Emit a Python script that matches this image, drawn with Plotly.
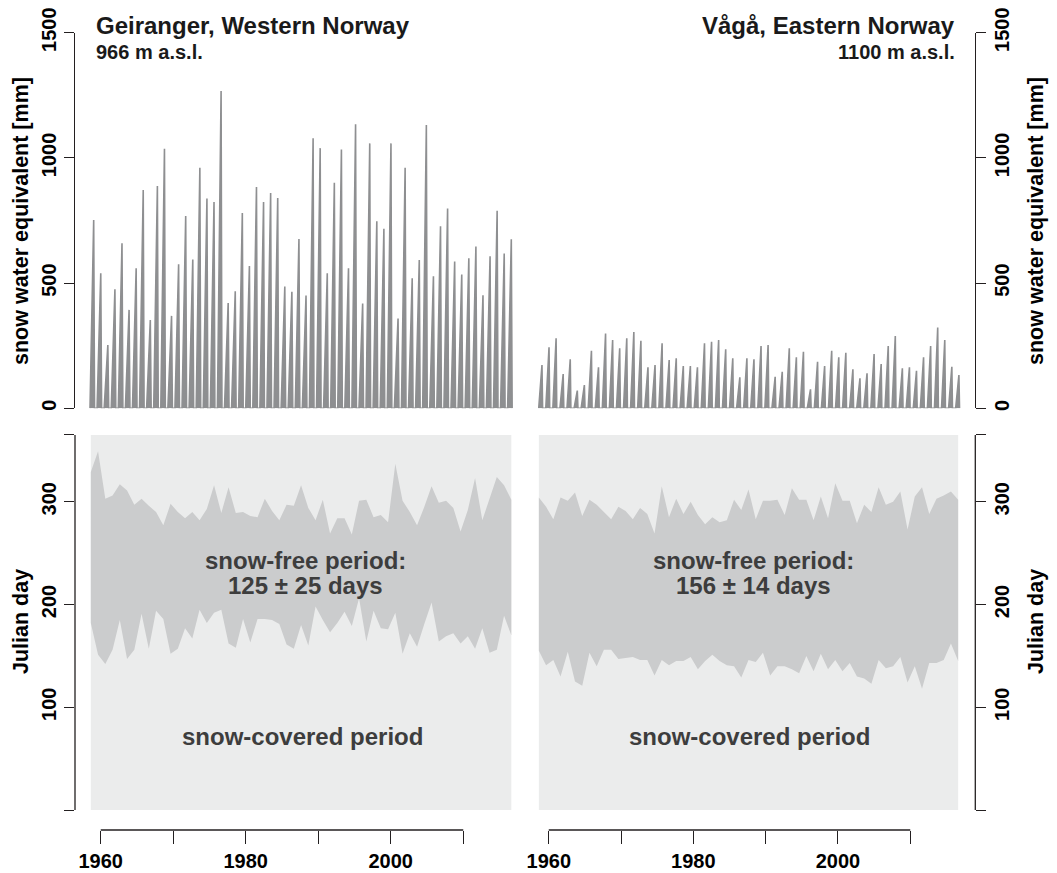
import plotly.graph_objects as go

W, H = 1057, 873

# ---------------- data ----------------
# annual maximum snow water equivalent [mm], one value per winter (60 winters)
swe_winters = list(range(1957, 2017))
geiranger_peak_swe = [752, 539, 253, 475, 659, 393, 559, 872, 353, 888,
                      1037, 369, 575, 768, 594, 961, 838, 824, 1267, 420,
                      467, 780, 568, 884, 824, 860, 840, 486, 465, 676,
                      450, 1078, 1039, 539, 901, 1034, 559, 1134, 418, 1058,
                      747, 717, 1058, 359, 961, 519, 592, 1131, 527, 727,
                      798, 586, 534, 599, 646, 451, 607, 789, 618, 675]
vaga_peak_swe = [173, 244, 280, 137, 196, 71, 93, 230, 164, 299,
                 273, 240, 280, 305, 270, 164, 173, 260, 193, 200,
                 169, 169, 164, 260, 266, 273, 236, 200, 124, 200,
                 196, 249, 253, 126, 146, 240, 204, 226, 76, 186,
                 169, 230, 204, 222, 156, 120, 140, 217, 177, 249,
                 289, 160, 164, 150, 204, 249, 323, 273, 166, 133]

# snow-free season (Julian day): melt-out (start) and snow onset (end)
season_years = list(range(1958, 2017))
geiranger_melt_out = [182, 151, 142, 156, 185, 147, 156, 191, 157, 194,
                      186, 152, 157, 177, 167, 195, 182, 192, 195, 162,
                      158, 186, 163, 186, 186, 185, 181, 161, 157, 180,
                      160, 198, 185, 173, 182, 193, 179, 206, 164, 194,
                      177, 176, 192, 152, 172, 159, 181, 202, 164, 169,
                      172, 162, 169, 157, 177, 153, 156, 189, 170]
geiranger_snow_onset = [329, 349, 303, 306, 317, 311, 297, 303, 296, 290,
                        277, 298, 290, 284, 290, 282, 293, 316, 289, 314,
                        289, 290, 286, 285, 303, 291, 282, 297, 296, 316,
                        294, 282, 302, 269, 284, 284, 268, 301, 302, 285,
                        287, 280, 337, 301, 290, 277, 295, 315, 299, 301,
                        294, 271, 292, 323, 282, 302, 324, 316, 302]
vaga_melt_out = [155, 141, 146, 130, 154, 125, 121, 153, 140, 156,
                 156, 147, 148, 149, 146, 146, 131, 146, 141, 145,
                 145, 149, 137, 145, 151, 145, 141, 140, 129, 146,
                 144, 153, 131, 140, 140, 137, 133, 150, 135, 152,
                 137, 146, 135, 143, 130, 128, 123, 146, 138, 140,
                 149, 124, 140, 118, 143, 143, 146, 162, 145]
vaga_snow_onset = [304, 295, 283, 304, 301, 309, 286, 302, 297, 290,
                   283, 295, 291, 283, 294, 288, 269, 315, 285, 303,
                   288, 300, 287, 278, 285, 280, 282, 302, 292, 312,
                   283, 301, 301, 302, 287, 313, 302, 302, 282, 305,
                   284, 318, 301, 301, 279, 297, 290, 314, 297, 300,
                   310, 273, 305, 314, 288, 303, 306, 310, 302]

year_first_day, year_last_day = 0, 365

sites = [
    dict(title="Geiranger, Western Norway", elev="966 m a.s.l.",
         peak=geiranger_peak_swe, melt=geiranger_melt_out, onset=geiranger_snow_onset,
         free_text="snow-free period:", free_stat="125 ± 25 days"),
    dict(title="Vågå, Eastern Norway", elev="1100 m a.s.l.",
         peak=vaga_peak_swe, melt=vaga_melt_out, onset=vaga_snow_onset,
         free_text="snow-free period:", free_stat="156 ± 14 days"),
]

# ---------------- style / layout ----------------
FONT = "Liberation Sans, Arial, Helvetica, sans-serif"
BAR = "#8e8f91"
BG = "#ebecec"
BAND = "#cbcccd"
TXT = "#3d3d3d"
AX = "#231f20"

# shape of each winter's SWE curve inside its year (fractions of a year)
ACC_PEAK = [0.52, 0.46]
MELT_END = [0.64, 0.55]
SEASON_POS = 0.63   # position of each season within its calendar year

def px_x(p):
    return p / W

def px_y(p):
    return 1 - p / H

# panel pixel geometry
left_dom = [px_x(75), px_x(528.5)]
right_dom = [px_x(523.1), px_x(975.3)]
top_dom = [px_y(408.3), px_y(32.7)]
bot_dom = [px_y(830), px_y(420)]
bot_range = [-19.4, 379.5]
year_range = [1956.45, 2019.0]

fig = go.Figure()

for k, s in enumerate(sites):
    xa = "x" if k == 0 else "x2"
    ya = "y" if k == 0 else "y2"
    xs, ys = [], []
    for yr, pk in zip(swe_winters, s["peak"]):
        xs += [yr, yr + ACC_PEAK[k], yr + MELT_END[k]]
        ys += [0, pk, 0]
    fig.add_trace(go.Scatter(x=xs, y=ys, mode="lines", fill="tozeroy",
                             fillcolor=BAR, line=dict(color=BAR, width=1.6),
                             xaxis=xa, yaxis=ya, hoverinfo="skip", showlegend=False))

for k, s in enumerate(sites):
    xa = "x3" if k == 0 else "x4"
    ya = "y3" if k == 0 else "y4"
    xpos = [yr + SEASON_POS for yr in season_years]
    n = len(xpos)
    common = dict(mode="lines", line=dict(width=0), xaxis=xa, yaxis=ya,
                  hoverinfo="skip", showlegend=False)
    fig.add_trace(go.Scatter(x=xpos, y=[year_first_day] * n, **common))
    fig.add_trace(go.Scatter(x=xpos, y=[year_last_day] * n, fill="tonexty",
                             fillcolor=BG, **common))
    fig.add_trace(go.Scatter(x=xpos, y=s["melt"], **common))
    fig.add_trace(go.Scatter(x=xpos, y=s["onset"], fill="tonexty",
                             fillcolor=BAND, **common))

tickfont = dict(family=FONT, size=20, color="black", weight="bold")
yax_common = dict(showgrid=False, zeroline=False, ticks="outside", ticklen=10,
                  tickwidth=1.3, tickcolor=AX, tickangle=-90, tickfont=tickfont,
                  automargin=False)

# top panels
top_x_left = [swe_winters[0] - 2.12, swe_winters[0] + 61.95]
top_x_right = [swe_winters[0] - 2.21, swe_winters[0] + 61.78]
fig.update_layout(
    xaxis=dict(domain=left_dom, range=top_x_left, visible=False, anchor="y"),
    yaxis=dict(domain=top_dom, range=[0, 1500], anchor="x", side="left",
               tickvals=[0, 500, 1000, 1500], showline=True, linecolor=AX,
               linewidth=1.3, **yax_common),
    xaxis2=dict(domain=right_dom, range=top_x_right, visible=False, anchor="y2"),
    yaxis2=dict(domain=top_dom, range=[0, 1500], anchor="x2", side="right",
                tickvals=[0, 500, 1000, 1500], showline=True, linecolor=AX,
                linewidth=1.3, ticklabelstandoff=-1, **yax_common),
)

xtick_vals = [1960, 1970, 1980, 1990, 2000, 2010]
xtick_text = ["1960", "", "1980", "", "2000", ""]
xax_common = dict(showgrid=False, zeroline=False, showline=False, ticks="outside",
                  ticklen=12.7, tickwidth=1.3, tickcolor=AX, tickvals=xtick_vals,
                  ticktext=xtick_text, tickfont=tickfont, range=year_range,
                  automargin=False)
ytick_vals = [0, 100, 200, 300, 365]
ytick_text = ["", "100", "200", "300", ""]
fig.update_layout(
    xaxis3=dict(domain=left_dom, anchor="y3", **xax_common),
    yaxis3=dict(domain=bot_dom, range=bot_range, anchor="x3", side="left",
                tickvals=ytick_vals, ticktext=ytick_text, showline=False, **yax_common),
    xaxis4=dict(domain=right_dom, anchor="y4", **xax_common),
    yaxis4=dict(domain=bot_dom, range=bot_range, anchor="x4", side="right",
                tickvals=ytick_vals, ticktext=ytick_text, showline=False,
                ticklabelstandoff=-1, **yax_common),
)

# R-style axis lines spanning only the tick range
shapes = []
for xr in ["x3", "x4"]:
    shapes.append(dict(type="line", xref=xr, yref="paper", x0=xtick_vals[0],
                       x1=xtick_vals[-1], y0=bot_dom[0], y1=bot_dom[0],
                       line=dict(color=AX, width=1.3)))
for yr_, xp in [("y3", left_dom[0]), ("y4", right_dom[1])]:
    shapes.append(dict(type="line", xref="paper", yref=yr_, x0=xp, x1=xp,
                       y0=ytick_vals[0], y1=ytick_vals[-1],
                       line=dict(color=AX, width=1.3)))

ann = []
bold = lambda size, color="black": dict(family=FONT, size=size, color=color, weight="bold")
# titles
ann.append(dict(text=sites[0]["title"], x=px_x(94), y=px_y(25), xref="paper", yref="paper",
                xanchor="left", yanchor="middle", showarrow=False, font=bold(24, "#1a1a1a")))
ann.append(dict(text=sites[0]["elev"], x=px_x(94), y=px_y(52), xref="paper", yref="paper",
                xanchor="left", yanchor="middle", showarrow=False, font=bold(20, "#1a1a1a")))
ann.append(dict(text=sites[1]["title"], x=px_x(957), y=px_y(25), xref="paper", yref="paper",
                xanchor="right", yanchor="middle", showarrow=False, font=bold(24, "#1a1a1a")))
ann.append(dict(text=sites[1]["elev"], x=px_x(957), y=px_y(52), xref="paper", yref="paper",
                xanchor="right", yanchor="middle", showarrow=False, font=bold(20, "#1a1a1a")))
# axis titles
for xp in [px_x(21), px_x(1036)]:
    ann.append(dict(text="snow water equivalent [mm]", x=xp, y=px_y(221), xref="paper",
                    yref="paper", xanchor="center", yanchor="middle", textangle=-90,
                    showarrow=False, font=bold(21.5)))
    ann.append(dict(text="Julian day", x=xp, y=px_y(622), xref="paper", yref="paper",
                    xanchor="center", yanchor="middle", textangle=-90,
                    showarrow=False, font=bold(21.5)))
# in-panel labels
for k, s in enumerate(sites):
    xr = "x3" if k == 0 else "x4"
    yr_ = "y3" if k == 0 else "y4"
    ann.append(dict(text=s["free_text"], x=1988.3, y=243, xref=xr, yref=yr_,
                    showarrow=False, font=bold(24, TXT)))
    ann.append(dict(text=s["free_stat"], x=1988.3, y=218, xref=xr, yref=yr_,
                    showarrow=False, font=bold(24, TXT)))
    ann.append(dict(text="snow-covered period", x=1987.8, y=72, xref=xr, yref=yr_,
                    showarrow=False, font=bold(24, TXT)))

fig.update_layout(width=W, height=H, margin=dict(l=0, r=0, t=0, b=0),
                  paper_bgcolor="white", plot_bgcolor="rgba(0,0,0,0)",
                  template="none", shapes=shapes, annotations=ann,
                  font=dict(family=FONT))

fig.write_html("out.html", config={"displayModeBar": False},
               post_script="document.body.style.margin='0px';document.body.style.padding='0px';")
